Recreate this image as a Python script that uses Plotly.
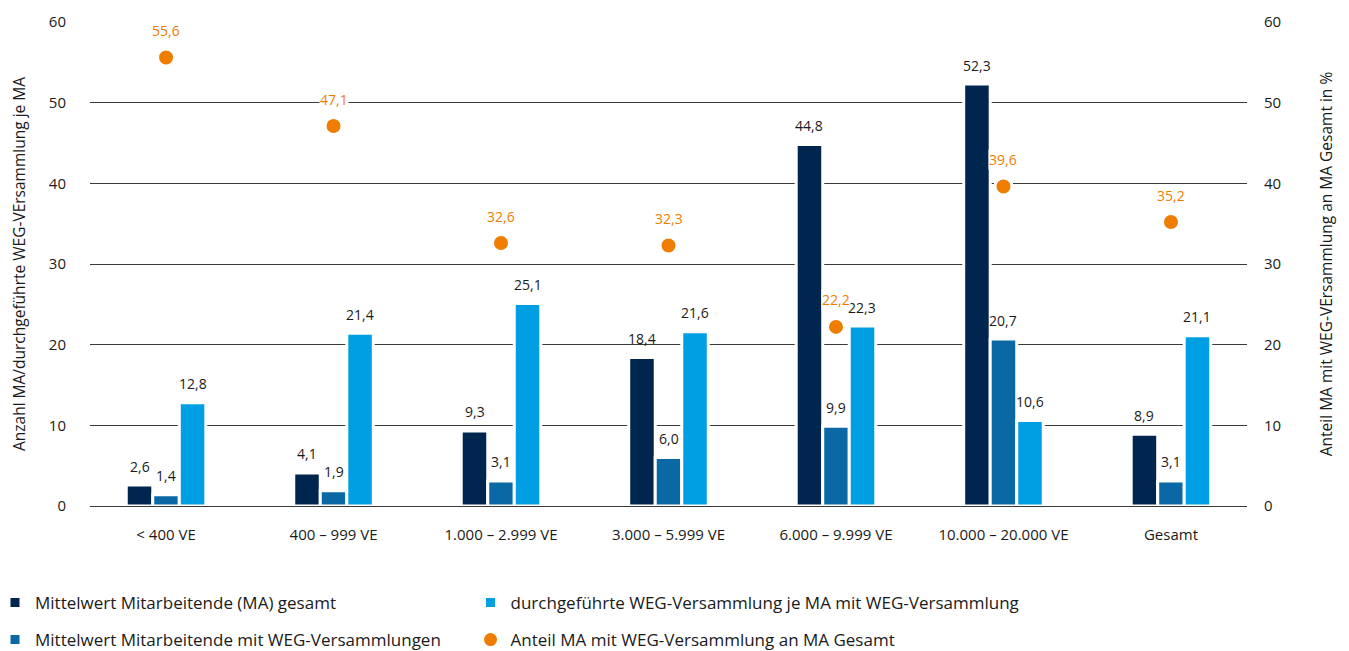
import plotly.graph_objects as go

categories = ["< 400 VE", "400 – 999 VE", "1.000 – 2.999 VE", "3.000 – 5.999 VE",
              "6.000 – 9.999 VE", "10.000 – 20.000 VE", "Gesamt"]
ma_gesamt = [2.6, 4.1, 9.3, 18.4, 44.8, 52.3, 8.9]
ma_mit_weg = [1.4, 1.9, 3.1, 6.0, 9.9, 20.7, 3.1]
weg_je_ma = [12.8, 21.4, 25.1, 21.6, 22.3, 10.6, 21.1]
anteil_ma = [55.6, 47.1, 32.6, 32.3, 22.2, 39.6, 35.2]

names = ["Mittelwert Mitarbeitende (MA) gesamt",
         "Mittelwert Mitarbeitende mit WEG-Versammlungen",
         "durchgeführte WEG-Versammlung je MA mit WEG-Versammlung",
         "Anteil MA mit WEG-Versammlung an MA Gesamt"]
colors = ["#00264f", "#0a69a5", "#009fe3", "#ef7d00"]

FONT = "Open Sans"
TXT = "#1a1a1a"

def fmt(v):
    return f"{v:.1f}".replace(".", ",")

fig = go.Figure()
bar_series = [ma_gesamt, ma_mit_weg, weg_je_ma]
legend_ids = ["legend", "legend", "legend2"]
for i, vals in enumerate(bar_series):
    fig.add_trace(go.Bar(
        x=categories, y=vals, name=names[i],
        marker=dict(color=colors[i], line=dict(color="white", width=3)),
        legend=legend_ids[i], legendgroup=f"g{i}",
        hoverinfo="x+y",
    ))

fig.add_trace(go.Scatter(
    x=categories, y=anteil_ma, name=names[3], yaxis="y2", mode="markers",
    marker=dict(color=colors[3], size=17, line=dict(color="white", width=3)),
    legend="legend2", legendgroup="g3", cliponaxis=False,
))

annotations = []
offsets = [-26.5, 0, 26.5]
for i, vals in enumerate(bar_series):
    for c, v in zip(categories, vals):
        annotations.append(dict(
            x=c, y=v, xref="x", yref="y", text=fmt(v), showarrow=False,
            xshift=offsets[i], yshift=19, yanchor="middle",
            font=dict(family=FONT, size=14, color=TXT),
        ))
for c, v in zip(categories, anteil_ma):
    annotations.append(dict(
        x=c, y=v, xref="x", yref="y2", text=fmt(v), showarrow=False,
        yshift=27, yanchor="middle", bgcolor="white", borderpad=0,
        font=dict(family=FONT, size=14, color=colors[3]),
    ))

# The page body has an 8px default margin; figure sized to fill the rest.
fig.update_layout(
    width=1341, height=643, autosize=False,
    margin=dict(l=82, r=102, t=14, b=145, autoexpand=False),
    paper_bgcolor="white", plot_bgcolor="white",
    font=dict(family=FONT, size=14, color=TXT),
    barmode="group", bargap=0.525, bargroupgap=0,
    showlegend=True,
    annotations=annotations,
    xaxis=dict(
        type="category", range=[-0.454, 6.454], showgrid=False, automargin=False,
        showline=True, linecolor="#3a3a3a", linewidth=1, layer="above traces",
        ticks="outside", ticklen=15, tickcolor="rgba(0,0,0,0)",
        tickfont=dict(family=FONT, size=15, color=TXT),
    ),
    yaxis=dict(
        range=[0, 60], dtick=10, showgrid=True, gridcolor="#3a3a3a", gridwidth=1,
        zeroline=False, showline=False, automargin=False,
        ticks="outside", ticklen=20, tickcolor="rgba(0,0,0,0)",
        tickfont=dict(family=FONT, size=15, color=TXT),
        title=dict(text="Anzahl MA/durchgeführte WEG-VErsammlung je MA",
                   font=dict(family=FONT, size=15.5, color=TXT), standoff=27),
    ),
    yaxis2=dict(
        overlaying="y", side="right", range=[0, 60], dtick=10, showgrid=False,
        zeroline=False, showline=False, automargin=False,
        ticks="outside", ticklen=13, tickcolor="rgba(0,0,0,0)",
        tickfont=dict(family=FONT, size=15, color=TXT),
        title=dict(text="Anteil MA mit WEG-VErsammlung an MA Gesamt in %",
                   font=dict(family=FONT, size=15.5, color=TXT), standoff=40),
    ),
    legend=dict(
        x=-0.0821, y=-0.163, xanchor="left", yanchor="top", orientation="v",
        traceorder="grouped", tracegroupgap=12,
        font=dict(family=FONT, size=17, color=TXT), bgcolor="rgba(0,0,0,0)",
    ),
    legend2=dict(
        x=0.3289, y=-0.163, xanchor="left", yanchor="top", orientation="v",
        traceorder="grouped", tracegroupgap=12,
        font=dict(family=FONT, size=17, color=TXT), bgcolor="rgba(0,0,0,0)",
    ),
)

fig.write_html("out.html")
